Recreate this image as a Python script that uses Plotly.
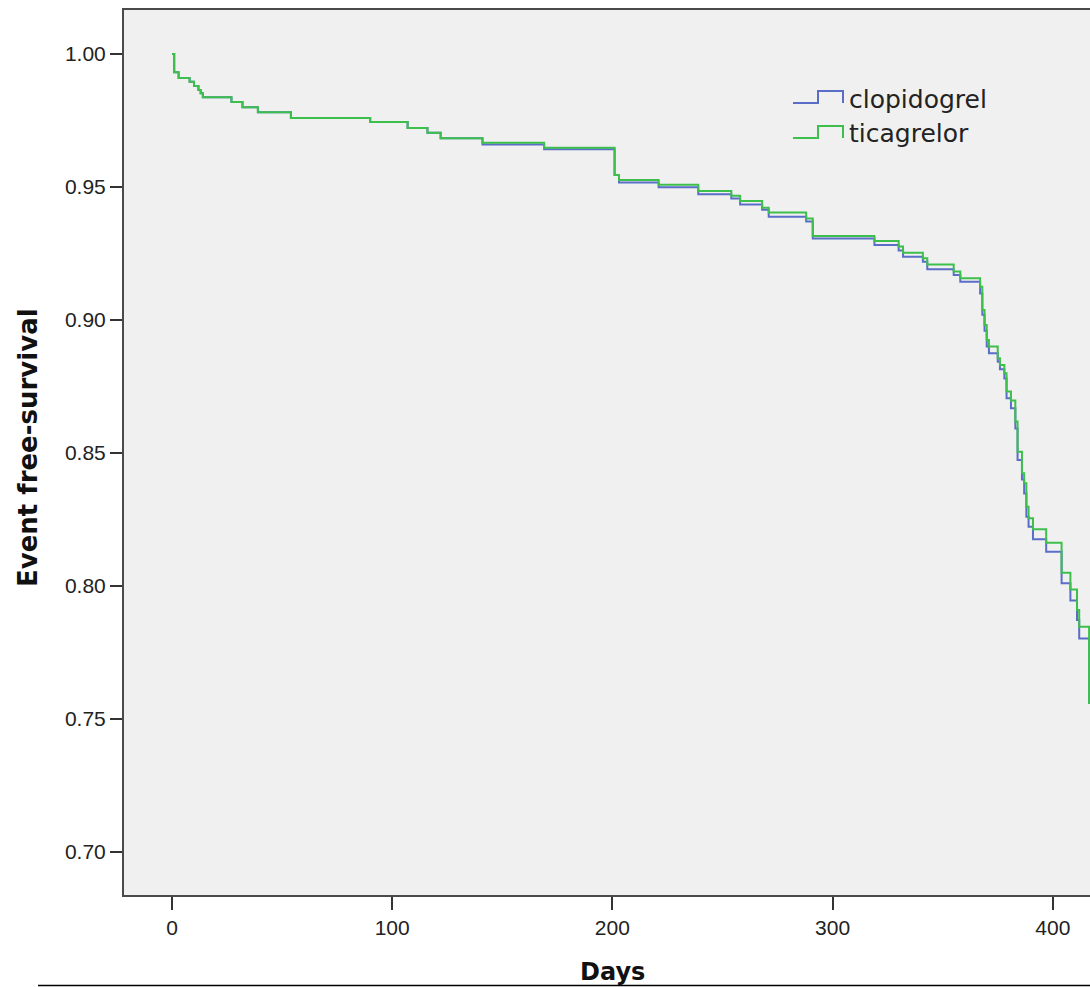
import plotly.graph_objects as go

# ---- data ----
clop_days = [0, 1, 3, 8, 10, 12, 13, 14, 27, 32, 39, 54, 90, 107, 116, 122, 141, 169,
             201, 203, 221, 239, 254, 258, 268, 271, 288, 291, 319, 330, 332, 341, 343, 355, 358,
             367, 368, 369, 370, 371, 375, 376, 378, 379, 381, 383, 384, 386, 387, 388, 389, 391,
             397, 404, 408, 411, 412, 416.5, 425]
clop_surv = [1.000, 0.9931, 0.9910, 0.9896, 0.9880, 0.9865, 0.9852, 0.9837, 0.9820, 0.9800, 0.9781,
             0.9759, 0.9744, 0.9722, 0.9704, 0.9683, 0.9660, 0.9642,
             0.9545, 0.9517, 0.9499, 0.9473, 0.9457, 0.9434, 0.9414, 0.9388, 0.9370, 0.9306, 0.9282,
             0.9261, 0.9238, 0.9219, 0.9191, 0.9169, 0.9144,
             0.9100, 0.9020, 0.8960, 0.8900, 0.8875, 0.8843, 0.8815, 0.8780, 0.8706, 0.8668, 0.8592,
             0.8474, 0.8400, 0.8348, 0.8260, 0.8223, 0.8176,
             0.8129, 0.8010, 0.7945, 0.7872, 0.7803, 0.7560, 0.7560]

tica_days = [0, 1, 3, 8, 10, 12, 13, 14, 27, 32, 39, 54, 90, 107, 116, 122, 141, 169,
             201, 203, 221, 239, 254, 258, 268, 271, 288, 291, 319, 330, 332, 341, 343, 355, 358,
             367, 368, 369, 370, 371, 375, 376, 378, 379, 381, 383, 384, 386, 387, 388, 389, 391,
             397, 404, 408, 411, 412, 416.5, 425]
tica_surv = [1.000, 0.9931, 0.9910, 0.9896, 0.9880, 0.9865, 0.9852, 0.9837, 0.9820, 0.9800, 0.9781,
             0.9759, 0.9744, 0.9722, 0.9704, 0.9683, 0.9666, 0.9648,
             0.9545, 0.9526, 0.9508, 0.9485, 0.9467, 0.9447, 0.9422, 0.9404, 0.9382, 0.9316, 0.9297,
             0.9276, 0.9253, 0.9232, 0.9209, 0.9182, 0.9157,
             0.9125, 0.9038, 0.8981, 0.8925, 0.8900, 0.8856, 0.8831, 0.8800, 0.8731, 0.8697, 0.8618,
             0.8505, 0.8424, 0.8386, 0.8298, 0.8255, 0.8213,
             0.8163, 0.8050, 0.7987, 0.7910, 0.7847, 0.7560, 0.7560]

series_names = ["clopidogrel", "ticagrelor"]
series_colors = ["#5a6ec8", "#3dbf4c"]

x_ticks = [0, 100, 200, 300, 400]
y_ticks = [0.70, 0.75, 0.80, 0.85, 0.90, 0.95, 1.00]
x_title = "Days"
y_title = "Event free-survival"

# ---- figure ----
W, H = 1090, 987
L, R, T, B = 124, 0, 10, 987 - 895
pw, ph = W - L - R, H - T - B


def px(xp):
    """pixel x -> paper"""
    return (xp - L) / pw


def py(yp):
    """pixel y -> paper"""
    return (H - B - yp) / ph


fig = go.Figure()
for d, s, name, col in [(clop_days, clop_surv, series_names[0], series_colors[0]),
                        (tica_days, tica_surv, series_names[1], series_colors[1])]:
    fig.add_trace(go.Scatter(x=d, y=s, mode="lines", name=name,
                             line=dict(color=col, width=2, shape="hv"),
                             showlegend=False))

axis_col = "#4a4a4a"
fig.update_layout(
    width=W, height=H,
    margin=dict(l=L, r=R, t=T, b=B, pad=0),
    paper_bgcolor="white",
    plot_bgcolor="#f0f0f0",
    font=dict(family="Liberation Sans, Arial", color="#222222", size=21),
    xaxis=dict(range=[-21.8, 416.9], tickmode="array", tickvals=x_ticks,
               ticks="outside", ticklen=13, tickwidth=2, tickcolor="#333333",
               showline=True, linecolor=axis_col, linewidth=2, mirror=True,
               showgrid=False, zeroline=False,
               tickfont=dict(size=21, family="Liberation Sans, Arial", color="#222222")),
    yaxis=dict(range=[0.68383, 1.01654], tickmode="array", tickvals=y_ticks,
               tickformat=".2f",
               ticks="outside", ticklen=12, tickwidth=2, tickcolor="#333333",
               showline=True, linecolor=axis_col, linewidth=2, mirror=False,
               showgrid=False, zeroline=False,
               tickfont=dict(size=21, family="Liberation Sans, Arial", color="#222222")),
)

# axis titles
fig.add_annotation(text=y_title, xref="paper", yref="paper", x=px(28), y=py(448),
                   textangle=-90, showarrow=False, xanchor="center", yanchor="middle",
                   font=dict(family="DejaVu Sans", size=26, color="#111111", weight="bold"))
fig.add_annotation(text=x_title, xref="paper", yref="paper", x=px(612), y=py(972),
                   showarrow=False, xanchor="center", yanchor="middle",
                   font=dict(family="DejaVu Sans", size=24, color="#111111", weight="bold"))

# legend (step icons + labels)
icon_x0, icon_x1, icon_x2 = px(793), px(818), px(843)
for i, (name, col) in enumerate(zip(series_names, series_colors)):
    off = 35 * i
    y_low, y_high = py(103 + off), py(91 + off)
    path = (f"M {icon_x0},{y_low} L {icon_x1},{y_low} L {icon_x1},{y_high} "
            f"L {icon_x2},{y_high} L {icon_x2},{y_low}")
    fig.add_shape(type="path", path=path, xref="paper", yref="paper",
                  line=dict(color=col, width=2))
    fig.add_annotation(text=name, xref="paper", yref="paper", x=px(847), y=py(99 + off),
                       showarrow=False, xanchor="left", yanchor="middle",
                       font=dict(family="DejaVu Sans", size=25, color="#222222"))

# bottom rule
fig.add_shape(type="line", xref="paper", yref="paper", x0=px(38), x1=1.0,
              y0=py(985.5), y1=py(985.5), line=dict(color="black", width=1.5))

fig.write_html(
    "out.html",
    config={"displayModeBar": False},
    post_script="document.body.style.margin='0';"
                "document.documentElement.style.overflow='hidden';",
)
